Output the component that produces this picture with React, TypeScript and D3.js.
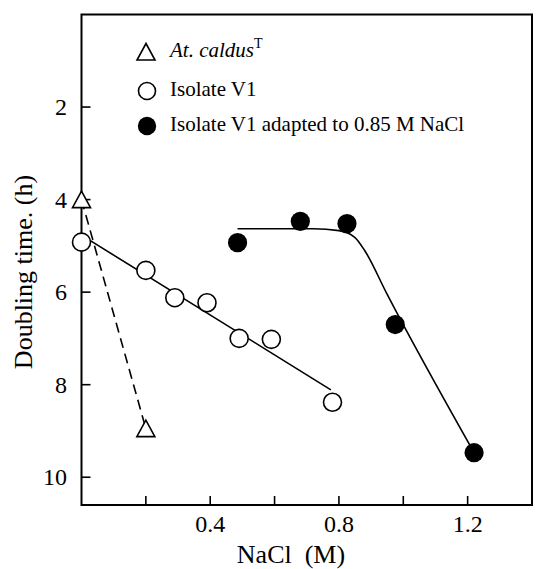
import React from 'react';
import * as d3 from 'd3';

// values (NaCl in M, doubling time in h)
const caldusX = [0, 0.2];
const caldusY = [4.0, 8.95];

const v1X = [0, 0.2, 0.29, 0.39, 0.49, 0.59, 0.78];
const v1Y = [4.92, 5.53, 6.12, 6.23, 7.0, 7.02, 8.38];

const adaptedX = [0.485, 0.68, 0.825, 0.975, 1.22];
const adaptedY = [4.93, 4.47, 4.52, 6.7, 9.47];

// hand-drawn guide curve through the adapted points
const adaptedCurveX = [0.485, 0.72, 0.8, 0.85, 0.88, 0.95, 1.22];
const adaptedCurveY = [4.63, 4.63, 4.67, 4.82, 5.1, 6.05, 9.47];

const xTicks = [0.2, 0.4, 0.6, 0.8, 1.0, 1.2, 1.4];
const xTickLabels = ['', '0.4', '', '0.8', '', '1.2', ''];
const yTicks = [2, 4, 6, 8, 10];

const legendLabels = ['At. caldus', 'Isolate V1', 'Isolate V1 adapted to 0.85 M NaCl'];

const width = 538;
const height = 569;
const font = '"Liberation Serif", "Times New Roman", serif';

export default function App() {
  const x = d3.scaleLinear().domain([0, 1.4]).range([81.5, 532]);
  const y = d3.scaleLinear().domain([0, 10.6]).range([14.5, 505]);

  // least squares line for isolate V1
  const mx = d3.mean(v1X) as number;
  const my = d3.mean(v1Y) as number;
  const slope = d3.sum(v1X, (d, i) => (d - mx) * (v1Y[i] - my)) / d3.sum(v1X, d => (d - mx) * (d - mx));
  const icpt = my - slope * mx;
  const fit = [0, 0.775].map(d => [d, icpt + slope * d] as [number, number]);

  const line = d3.line<[number, number]>().x(d => x(d[0])).y(d => y(d[1]));
  const curve = d3.line<[number, number]>().x(d => x(d[0])).y(d => y(d[1])).curve(d3.curveMonotoneX);

  const tri = (cx: number, cy: number) =>
    `M${cx},${cy - 8.5}L${cx + 9},${cy + 8}L${cx - 9},${cy + 8}Z`;

  const [x0, x1] = x.range();
  const [y0, y1] = y.range();

  return (
    <svg width={width} height={height} style={{ position: 'absolute', left: 0, top: 0, background: '#fff' }}
      fontFamily={font}>
      {/* frame */}
      <rect x={x0} y={y0} width={x1 - x0} height={y1 - y0} fill="none" stroke="#000" strokeWidth={2} />

      {/* x ticks */}
      {xTicks.map((t, i) => (
        <g key={'xt' + i}>
          <line x1={x(t)} x2={x(t)} y1={y1} y2={y1 - 9} stroke="#000" strokeWidth={1.6} />
          {xTickLabels[i] && (
            <text x={x(t)} y={532} textAnchor="middle" fontSize={24}>{xTickLabels[i]}</text>
          )}
        </g>
      ))}

      {/* y ticks */}
      {yTicks.map(t => (
        <g key={'yt' + t}>
          <line x1={x0} x2={x0 + 9} y1={y(t)} y2={y(t)} stroke="#000" strokeWidth={1.6} />
          <text x={67} y={y(t)} textAnchor="end" dominantBaseline="central" fontSize={24}>{t}</text>
        </g>
      ))}

      {/* axis titles */}
      <text x={291} y={563} textAnchor="middle" fontSize={26} xmlSpace="preserve">NaCl  (M)</text>
      <text transform="translate(32,272) rotate(-90)" textAnchor="middle" fontSize={26}>Doubling time. (h)</text>

      {/* lines */}
      <path d={line(caldusX.map((d, i) => [d, caldusY[i]]) as [number, number][]) || ''}
        fill="none" stroke="#000" strokeWidth={1.6} strokeDasharray="10,6" />
      <path d={line(fit) || ''} fill="none" stroke="#000" strokeWidth={1.6} />
      <path d={curve(adaptedCurveX.map((d, i) => [d, adaptedCurveY[i]]) as [number, number][]) || ''}
        fill="none" stroke="#000" strokeWidth={1.6} />

      {/* markers */}
      {caldusX.map((d, i) => (
        <path key={'c' + i} d={tri(x(d), y(caldusY[i]))} fill="#fff" stroke="#000" strokeWidth={1.6} />
      ))}
      {v1X.map((d, i) => (
        <circle key={'v' + i} cx={x(d)} cy={y(v1Y[i])} r={9} fill="#fff" stroke="#000" strokeWidth={1.6} />
      ))}
      {adaptedX.map((d, i) => (
        <circle key={'a' + i} cx={x(d)} cy={y(adaptedY[i])} r={9.6} fill="#000" />
      ))}

      {/* legend */}
      <path d={tri(146, 52)} fill="#fff" stroke="#000" strokeWidth={1.6} />
      <text x={170} y={57} fontSize={21}>
        <tspan fontStyle="italic">{legendLabels[0]}</tspan>
        <tspan fontSize={14} dy={-9}>T</tspan>
      </text>
      <circle cx={147} cy={91} r={8.5} fill="#fff" stroke="#000" strokeWidth={1.6} />
      <text x={170} y={96} fontSize={21}>{legendLabels[1]}</text>
      <circle cx={147} cy={126} r={9.2} fill="#000" />
      <text x={170} y={131} fontSize={21}>{legendLabels[2]}</text>
    </svg>
  );
}
